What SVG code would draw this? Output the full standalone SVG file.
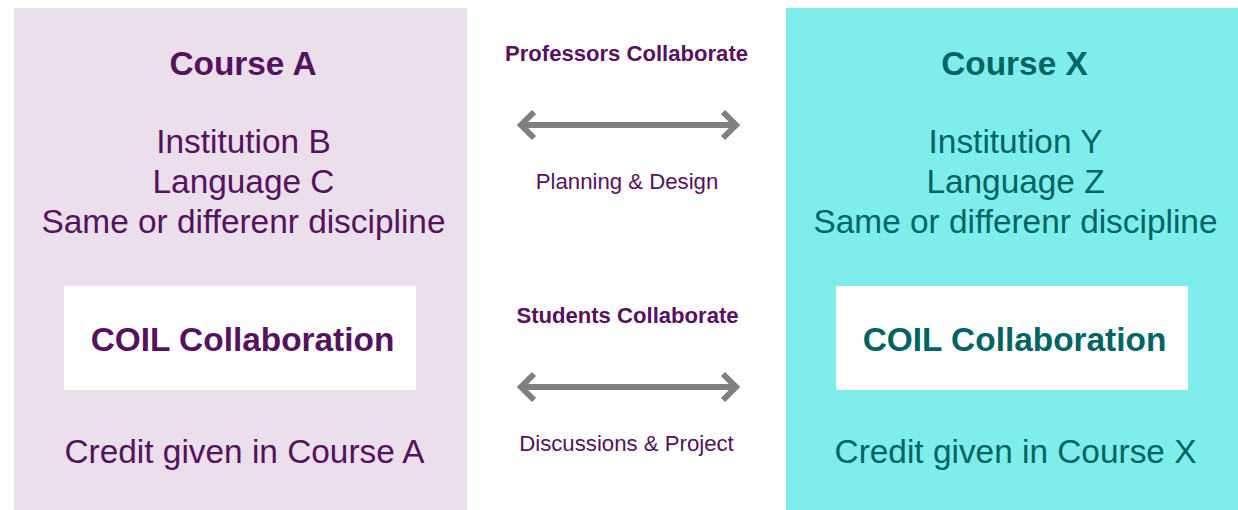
<svg xmlns="http://www.w3.org/2000/svg" width="1238" height="510" viewBox="0 0 1238 510">
<style>
text{font-family:"Liberation Sans",Arial,sans-serif;text-anchor:middle}
.pa{fill:#561160}
.tx{fill:#006464}
.h{font-weight:bold;font-size:33.4px}
.b{font-size:33.4px}
.m{font-size:22.2px}
.mb{font-size:22.1px;font-weight:bold}
.arr{stroke:#808080;stroke-width:6;fill:none;stroke-linecap:butt}
</style>
<rect width="1238" height="510" fill="#ffffff"/>
<g id="courseA">
<rect x="14" y="8" width="453" height="502" fill="#EADFEA"/>
<text class="pa h" x="243" y="75">Course A</text>
<text class="pa b" x="243.5" y="153">Institution B</text>
<text class="pa b" x="243.5" y="193">Language C</text>
<text class="pa b" x="243.5" y="233">Same or differenr discipline</text>
<rect x="64" y="286" width="352" height="104" fill="#ffffff"/>
<text class="pa h" x="242.5" y="351">COIL Collaboration</text>
<text class="pa b" x="244.5" y="463">Credit given in Course A</text>
</g>
<g id="courseX">
<rect x="786" y="8" width="452" height="502" fill="#80EDED"/>
<text class="tx h" x="1014.5" y="75">Course X</text>
<text class="tx b" x="1015.5" y="153">Institution Y</text>
<text class="tx b" x="1015.5" y="193">Language Z</text>
<text class="tx b" x="1015.5" y="233">Same or differenr discipline</text>
<rect x="836" y="286" width="352" height="104" fill="#ffffff"/>
<text class="tx h" x="1014.5" y="351">COIL Collaboration</text>
<text class="tx b" x="1015.5" y="463">Credit given in Course X</text>
</g>
<g id="professors">
<text class="pa mb" x="626.5" y="61">Professors Collaborate</text>
<text class="pa m" x="627" y="189">Planning &amp; Design</text>
</g>
<g id="students">
<text class="pa mb" x="627.5" y="323">Students Collaborate</text>
<text class="pa m" x="626.5" y="451">Discussions &amp; Project</text>
</g>
<g id="connectors">
<path class="arr" d="M522 125H735M534 112L521 125L534 138M723 112L736 125L723 138"/>
<path class="arr" d="M522 387H735M534 374L521 387L534 400M723 374L736 387L723 400"/>
</g>
</svg>
